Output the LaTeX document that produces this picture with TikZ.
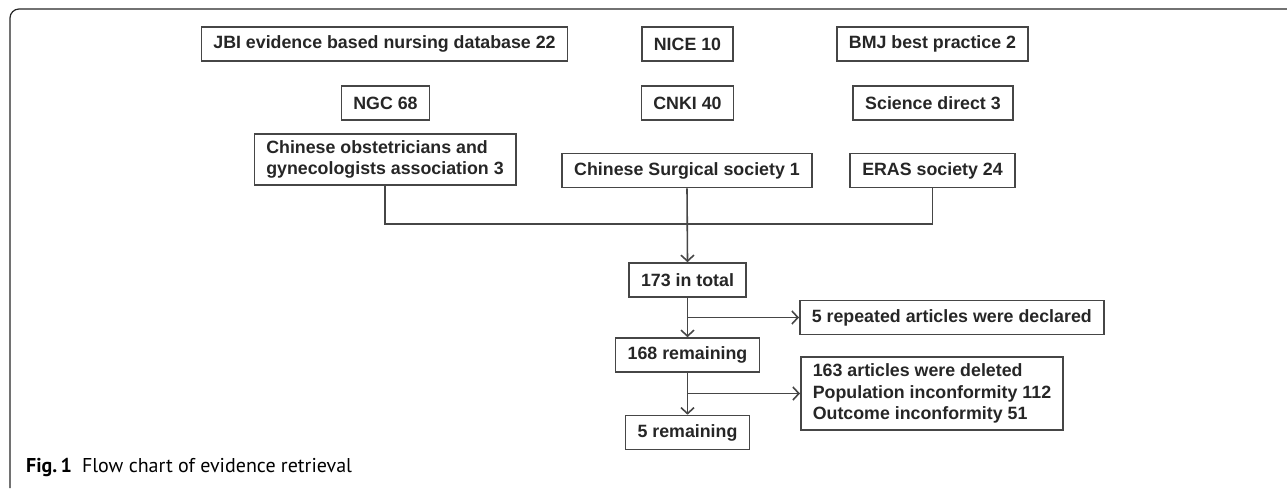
\documentclass[tikz,border=0pt]{standalone}
\usepackage{fontspec}
\setmainfont{Liberation Sans}
\newfontfamily\capfont{PT Sans}
\usetikzlibrary{arrows.meta}
\definecolor{boxgray}{RGB}{70,70,70}
\tikzset{
  box/.style={
    draw=boxgray,
    line width=1.6pt,
    text=black!85,
    font=\bfseries\fontsize{17.8}{21.7}\selectfont,
    inner xsep=12pt,
    inner ysep=4pt,
    minimum height=34pt
  },
  multi/.style={align=left, inner ysep=6.5pt},
  link/.style={draw=boxgray, line width=1.6pt},
  flow/.style={link, -{Straight Barb[length=6pt,width=13pt,line width=1.6pt]}}
}
\newcommand{\figframe}{
  \useasboundingbox (0,0) rectangle (1287,488);
  \draw[line width=1.2pt, black!85, rounded corners=9pt] (10,488) -- (10,9) -- (1287,9);
}

\begin{document}
\begin{tikzpicture}[x=1pt,y=-1pt]
  \figframe

  % Sources
  \node[box] (jbi) at (384.5,44) {JBI evidence based nursing database 22};
  \node[box] (nice) at (687.5,44) {NICE 10};
  \node[box] (bmj) at (932.5,44) {BMJ best practice 2};
  \node[box] (ngc) at (385.5,103) {NGC 68};
  \node[box] (cnki) at (687.5,103) {CNKI 40};
  \node[box] (sd) at (933,103) {Science direct 3};
  \node[box, multi] (coga) at (385,159.5) {Chinese obstetricians and\\gynecologists association 3};
  \node[box] (css) at (687,170.5) {Chinese Surgical society 1};
  \node[box] (eras) at (932.5,170.5) {ERAS society 24};

  % Screening
  \node[box] (total) at (687.5,280) {173 in total};
  \node[box, anchor=west] (rep) at (799,317.5) {5 repeated articles were declared};
  \node[box] (rem1) at (687.5,355) {168 remaining};
  \node[box, multi, anchor=west] (del) at (800,393.5) {163 articles were deleted\\Population inconformity 112\\Outcome inconformity 51};
  \node[box] (rem2) at (687.5,432.5) {5 remaining};

  \coordinate (join) at (687,224);
  \draw[link] (coga.south) |- (join) -| (eras.south);
  \draw[flow] (css.south) -- (total.north);

  \coordinate (fork1) at (total.south |- rep.west);
  \coordinate (fork2) at (rem1.south |- del.west);
  \draw[flow] (total.south) -- (rem1.north);
  \draw[flow] (fork1) -- (rep.west);
  \draw[flow] (rem1.south) -- (rem2.north);
  \draw[flow] (fork2) -- (del.west);

  % Caption
  \node[anchor=base west, inner sep=0pt, font=\capfont\fontsize{20}{24}\selectfont] (cap) at (26,472)
    {\textbf{Fig.\,1}\hspace{10pt}Flow chart of evidence retrieval};
\end{tikzpicture}
\end{document}
